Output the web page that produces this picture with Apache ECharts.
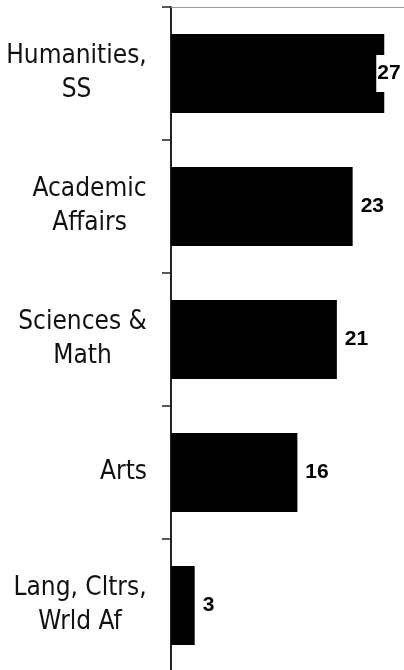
<!DOCTYPE html>
<html>
<head>
<meta charset="utf-8">
<script src="https://cdn.jsdelivr.net/npm/echarts@6/dist/echarts.min.js"></script>
<style>html,body{margin:0;padding:0;background:#fff;}#c{width:404px;height:670px;}</style>
</head>
<body>
<div id="c"></div>
<script>
const categories = ["Humanities,\nSS", "Academic\nAffairs", "Sciences &\nMath", "Arts", "Lang, Cltrs,\nWrld Af"];
const values = [27, 23, 21, 16, 3];

const LABEL_FONT = '"DejaVu Sans Condensed", "DejaVu Sans", sans-serif';
const LABEL_SIZE = 26;
const cv = document.createElement('canvas').getContext('2d');
cv.font = LABEL_SIZE + 'px ' + LABEL_FONT;
const rich = {};
categories.forEach((c, i) => {
  const w = Math.max(...c.split('\n').map(l => cv.measureText(l).width));
  rich['c' + i] = {width: Math.ceil(w), align: 'center', fontFamily: LABEL_FONT, fontSize: LABEL_SIZE, lineHeight: 34, color: '#111'};
});

const chart = echarts.init(document.getElementById('c'), null, {renderer: 'canvas'});
const data = values.map((v, i) => {
  if (i === 0) {
    return {value: v, label: {offset: [-16, 0], backgroundColor: '#fff', padding: [8, 1, 8, 1]}};
  }
  return v;
});
chart.setOption({
  animation: false,
  grid: {left: 171, top: 7, width: 233, height: 665, containLabel: false, outerBoundsMode: 'none'},
  xAxis: {
    type: 'value', position: 'top', min: 0, max: 29.5,
    axisLine: {show: true, lineStyle: {color: '#999', width: 1}},
    axisTick: {show: false}, axisLabel: {show: false}, splitLine: {show: false}
  },
  yAxis: {
    type: 'category', data: categories, inverse: true,
    axisLine: {show: true, lineStyle: {color: '#222', width: 2}},
    axisTick: {show: true, length: 9, alignWithLabel: false, lineStyle: {color: '#222', width: 1.5}},
    axisLabel: {
      margin: 24, align: 'right',
      formatter: (val, idx) => val.split('\n').map(l => '{c' + idx + '|' + l + '}').join('\n'),
      rich: rich
    }
  },
  series: [{
    type: 'bar', data: data, barWidth: 79,
    itemStyle: {color: '#000'},
    label: {show: true, position: 'right', distance: 8, color: '#000', fontFamily: 'Liberation Sans', fontWeight: 'bold', fontSize: 21}
  }]
});
</script>
</body>
</html>
